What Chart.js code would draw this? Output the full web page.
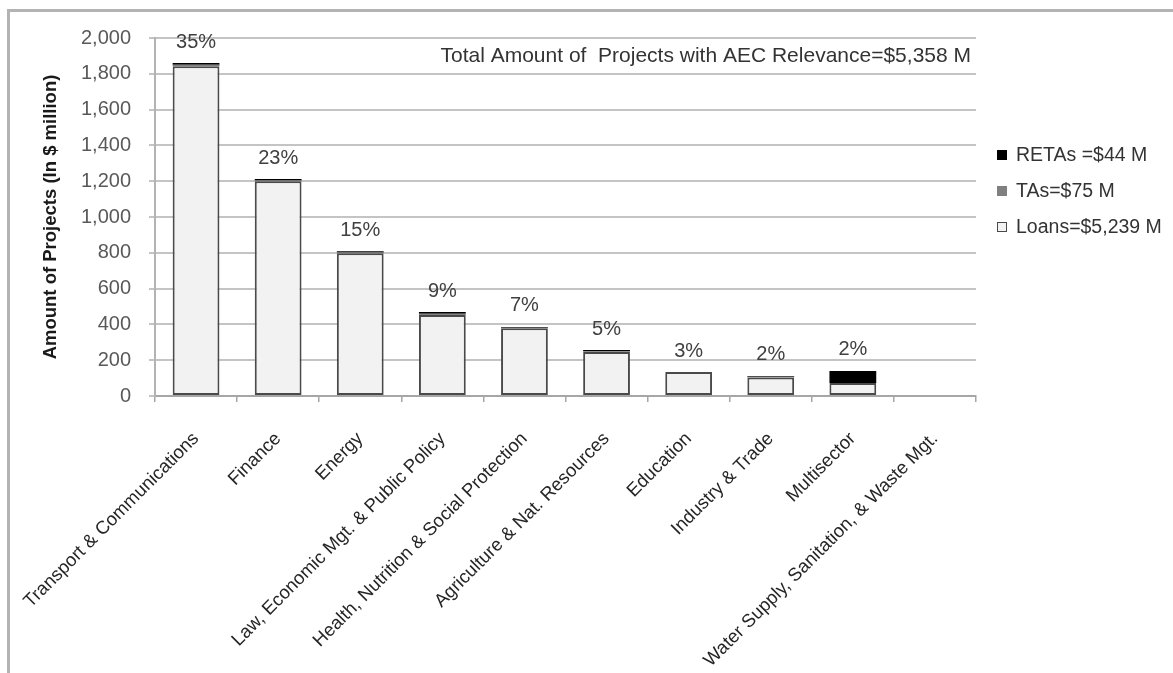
<!DOCTYPE html>
<html>
<head>
<meta charset="utf-8">
<script src="https://cdn.jsdelivr.net/npm/chart.js@4/dist/chart.umd.min.js"></script>
<style>
  html, body { margin: 0; padding: 0; background: #ffffff; }
  #frame { position: absolute; left: 7px; top: 9px; width: 1200px; height: 700px;
           border-left: 3px solid #b3b3b3; border-top: 3px solid #b3b3b3; }
  #wrap { position: absolute; left: 0; top: 0; width: 1173px; height: 673px; }
</style>
</head>
<body>
<div id="frame"></div>
<div id="wrap"><canvas id="c" width="1173" height="673"></canvas></div>
<script>
// Sectors, ordered by amount
const sectors = [
  'Transport & Communications',
  'Finance',
  'Energy',
  'Law, Economic Mgt. & Public Policy',
  'Health, Nutrition & Social Protection',
  'Agriculture & Nat. Resources',
  'Education',
  'Industry & Trade',
  'Multisector',
  'Water Supply, Sanitation, & Waste Mgt.'
];

// Amounts in $ million by instrument
const loans = [1842, 1200, 798, 452, 378, 246, 134, 104, 72, 0];
const tas   = [8, 4, 4, 7, 3, 4, 0, 3, 0, 0];
const retas = [10, 8, 6, 10, 5, 7, 0, 5, 68, 0];

// Share of total shown above each bar
const shares = ['35%', '23%', '15%', '9%', '7%', '5%', '3%', '2%', '2%', ''];

const seriesNames = ['Loans=$5,239 M', 'TAs=$75 M', 'RETAs =$44 M'];
const totalNote = 'Total Amount of  Projects with AEC Relevance=$5,358 M';

const yTicks = { min: 0, max: 2000, step: 200 };

const FONT = '"Liberation Sans", Arial, sans-serif';

// Percent labels above each stack, the note line and the side legend
const extras = {
  id: 'extras',
  afterDatasetsDraw(chart) {
    const ctx = chart.ctx;
    const area = chart.chartArea;
    const topMeta = chart.getDatasetMeta(chart.data.datasets.length - 1);
    ctx.save();
    ctx.font = '20px ' + FONT;
    ctx.fillStyle = '#404040';
    ctx.textAlign = 'center';
    ctx.textBaseline = 'middle';
    topMeta.data.forEach((bar, i) => {
      if (!shares[i]) return;
      ctx.fillText(shares[i], bar.x, bar.y - 21);
    });

    ctx.font = '21px ' + FONT;
    ctx.fillStyle = '#333333';
    ctx.textAlign = 'right';
    ctx.fillText(totalNote, area.right - 5, 56);

    // legend, top series first
    ctx.font = '19.5px ' + FONT;
    const ds = chart.data.datasets;
    const lx = area.right + 21;
    let ly = 155;
    ctx.textAlign = 'left';
    for (let k = ds.length - 1; k >= 0; k--) {
      const d = ds[k];
      ctx.fillStyle = d.backgroundColor;
      ctx.fillRect(lx, ly - 5, 10, 10);
      ctx.strokeStyle = d.legendStroke;
      ctx.lineWidth = 1;
      ctx.strokeRect(lx + 0.5, ly - 4.5, 9, 9);
      ctx.fillStyle = '#333333';
      ctx.fillText(d.label, lx + 19, ly + 1);
      ly += 36;
    }
    ctx.restore();
  }
};

new Chart(document.getElementById('c'), {
  type: 'bar',
  data: {
    labels: sectors,
    datasets: [
      { label: seriesNames[0], data: loans, backgroundColor: '#f2f2f2',
        borderColor: '#4a4a4a', borderWidth: 2, borderSkipped: false, legendStroke: '#4a4a4a' },
      { label: seriesNames[1], data: tas, backgroundColor: '#808080',
        borderWidth: 0, legendStroke: '#808080' },
      { label: seriesNames[2], data: retas, backgroundColor: '#000000',
        borderWidth: 0, legendStroke: '#000000' }
    ]
  },
  options: {
    responsive: false,
    animation: false,
    locale: 'en-US',
    barPercentage: 0.57,
    categoryPercentage: 1.0,
    layout: { padding: { left: 40, right: 197, top: 38, bottom: 0 } },
    plugins: { legend: { display: false }, tooltip: { enabled: false } },
    scales: {
      x: {
        stacked: true,
        afterFit(scale) {
          scale.height = 277;
          // long slanted labels may run into the left margin
          scale.paddingLeft = 0;
          scale.paddingRight = 0;
        },
        border: { display: true, color: '#a6a6a6', width: 2 },
        grid: { display: true, drawOnChartArea: false, drawTicks: true, tickLength: 6,
                color: '#a6a6a6', lineWidth: 1.5, offset: true },
        ticks: {
          autoSkip: false, maxRotation: 45, minRotation: 45,
          padding: 26, color: '#262626', font: { family: FONT, size: 18.5 }
        }
      },
      y: {
        stacked: true,
        min: yTicks.min, max: yTicks.max,
        afterFit(scale) { scale.width = 115; },
        border: { display: true, color: '#b3b3b3', width: 2 },
        grid: { color: '#c4c4c4', lineWidth: 2, drawTicks: true, tickLength: 6 },
        ticks: {
          stepSize: yTicks.step, padding: 18, color: '#595959',
          font: { family: FONT, size: 20 }
        },
        title: {
          display: true, text: 'Amount of Projects (In $ million)',
          color: '#1a1a1a', font: { family: FONT, size: 18.5, weight: 'bold' },
          padding: { top: 0, bottom: 0 }
        }
      }
    }
  },
  plugins: [extras]
});
</script>
</body>
</html>
